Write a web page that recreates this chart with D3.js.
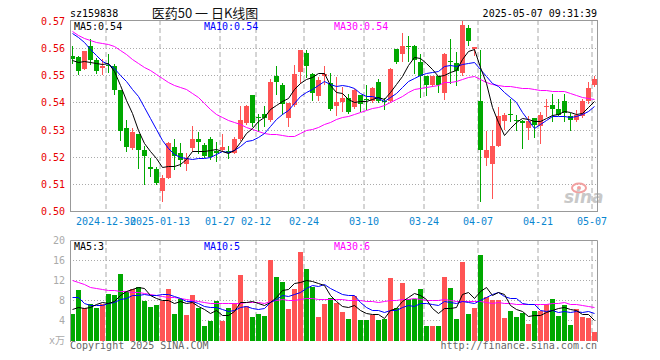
<!DOCTYPE html>
<html>
<head>
<meta charset="utf-8">
<script src="https://cdn.jsdelivr.net/npm/d3@7"></script>
<style>
body { margin: 0; background: #fff; }
svg { display: block; font-family: "DejaVu Sans Mono", monospace; font-size: 10px; }
</style>
</head>
<body>
<script>
// trading days shown, oldest first
const dates = [
  "2024-12-20","2024-12-23","2024-12-24","2024-12-25","2024-12-26","2024-12-27","2024-12-30","2024-12-31",
  "2025-01-02","2025-01-03","2025-01-06","2025-01-07","2025-01-08","2025-01-09","2025-01-10","2025-01-13",
  "2025-01-14","2025-01-15","2025-01-16","2025-01-17","2025-01-20","2025-01-21","2025-01-22","2025-01-23",
  "2025-01-24","2025-01-27","2025-02-05","2025-02-06","2025-02-07","2025-02-10","2025-02-11","2025-02-12",
  "2025-02-13","2025-02-14","2025-02-17","2025-02-18","2025-02-19","2025-02-20","2025-02-21","2025-02-24",
  "2025-02-25","2025-02-26","2025-02-27","2025-02-28","2025-03-03","2025-03-04","2025-03-05","2025-03-06",
  "2025-03-07","2025-03-10","2025-03-11","2025-03-12","2025-03-13","2025-03-14","2025-03-17","2025-03-18",
  "2025-03-19","2025-03-20","2025-03-21","2025-03-24","2025-03-25","2025-03-26","2025-03-27","2025-03-28",
  "2025-03-31","2025-04-01","2025-04-02","2025-04-03","2025-04-07","2025-04-08","2025-04-09","2025-04-10",
  "2025-04-11","2025-04-14","2025-04-15","2025-04-16","2025-04-17","2025-04-18","2025-04-21","2025-04-22",
  "2025-04-23","2025-04-24","2025-04-25","2025-04-28","2025-04-29","2025-04-30","2025-05-06","2025-05-07"
];

const open = [
  0.5570,0.5566,0.5524,0.5607,0.5555,0.5525,0.5537,0.5536,0.5444,0.5304,0.5233,0.5282,0.5225,0.5162,0.5153,0.5074,
  0.5121,0.5236,0.5212,0.5172,0.5233,0.5266,0.5242,0.5266,0.5221,0.5224,0.5220,0.5215,0.5264,0.5323,0.5426,0.5346,
  0.5356,0.5334,0.5497,0.5466,0.5341,0.5391,0.5513,0.5583,0.5505,0.5425,0.5496,0.5472,0.5386,0.5402,0.5415,0.5383,
  0.5426,0.5412,0.5405,0.5475,0.5407,0.5405,0.5595,0.5579,0.5608,0.5607,0.5548,0.5497,0.5466,0.5497,0.5436,0.5552,
  0.5545,0.5508,0.5673,0.5596,0.5404,0.5196,0.5174,0.5241,0.5333,0.5359,0.5334,0.5333,0.5306,0.5343,0.5315,0.5386,
  0.5392,0.5376,0.5404,0.5349,0.5337,0.5349,0.5404,0.5465
];
const high = [
  0.5607,0.5570,0.5590,0.5634,0.5564,0.5561,0.5577,0.5540,0.5446,0.5334,0.5307,0.5284,0.5239,0.5196,0.5163,0.5132,
  0.5253,0.5264,0.5250,0.5215,0.5315,0.5290,0.5252,0.5274,0.5254,0.5282,0.5239,0.5274,0.5387,0.5392,0.5426,0.5356,
  0.5385,0.5485,0.5536,0.5472,0.5398,0.5538,0.5594,0.5593,0.5510,0.5495,0.5535,0.5510,0.5494,0.5456,0.5430,0.5448,
  0.5426,0.5466,0.5455,0.5485,0.5418,0.5528,0.5595,0.5656,0.5646,0.5613,0.5577,0.5497,0.5497,0.5497,0.5583,0.5634,
  0.5585,0.5703,0.5686,0.5606,0.5594,0.5294,0.5300,0.5383,0.5361,0.5413,0.5355,0.5337,0.5349,0.5343,0.5364,0.5413,
  0.5432,0.5413,0.5432,0.5361,0.5373,0.5413,0.5474,0.5496
];
const low = [
  0.5546,0.5503,0.5522,0.5540,0.5509,0.5503,0.5512,0.5432,0.5260,0.5221,0.5229,0.5160,0.5101,0.5129,0.5098,0.5037,
  0.5120,0.5153,0.5166,0.5151,0.5221,0.5212,0.5199,0.5190,0.5184,0.5220,0.5195,0.5212,0.5262,0.5321,0.5313,0.5296,
  0.5314,0.5332,0.5430,0.5358,0.5315,0.5388,0.5471,0.5495,0.5409,0.5409,0.5469,0.5372,0.5352,0.5368,0.5361,0.5380,
  0.5369,0.5374,0.5400,0.5402,0.5374,0.5400,0.5545,0.5552,0.5552,0.5509,0.5421,0.5426,0.5460,0.5440,0.5411,0.5471,
  0.5465,0.5502,0.5612,0.5576,0.5037,0.5169,0.5049,0.5240,0.5303,0.5331,0.5300,0.5233,0.5266,0.5273,0.5251,0.5349,
  0.5331,0.5355,0.5331,0.5300,0.5331,0.5347,0.5398,0.5459
];
const close = [
  0.5560,0.5515,0.5588,0.5555,0.5515,0.5536,0.5535,0.5444,0.5295,0.5236,0.5292,0.5225,0.5202,0.5156,0.5102,0.5121,
  0.5252,0.5202,0.5188,0.5196,0.5267,0.5256,0.5202,0.5200,0.5215,0.5237,0.5215,0.5264,0.5335,0.5387,0.5323,0.5343,
  0.5344,0.5476,0.5475,0.5395,0.5397,0.5505,0.5593,0.5534,0.5434,0.5483,0.5505,0.5374,0.5402,0.5416,0.5364,0.5444,
  0.5393,0.5410,0.5454,0.5405,0.5404,0.5524,0.5548,0.5607,0.5606,0.5558,0.5497,0.5466,0.5497,0.5466,0.5577,0.5550,
  0.5514,0.5686,0.5628,0.5606,0.5224,0.5223,0.5241,0.5349,0.5355,0.5356,0.5332,0.5326,0.5333,0.5318,0.5355,0.5388,
  0.5374,0.5355,0.5361,0.5337,0.5355,0.5404,0.5453,0.5486
];
// volume, x10k lots
const vol = [
  5.3,10.1,6.4,7.3,6.5,7.3,9.3,9.1,13.2,9.7,10.2,10.6,7.9,6.7,7.0,7.9,
  10.2,5.3,8.2,5.0,9.0,6.4,2.9,3.9,7.8,3.7,6.5,7.5,13.0,6.9,4.7,5.3,
  4.9,16.0,12.6,11.7,6.3,10.2,17.6,14.3,10.7,4.7,7.3,8.5,7.5,5.6,4.3,8.9,
  4.1,4.1,5.1,4.1,4.3,12.5,6.4,11.5,8.2,8.2,10.3,2.9,2.9,2.9,12.7,10.5,
  4.3,15.6,5.3,6.5,17.0,8.6,8.1,8.1,4.5,5.9,4.7,5.5,3.3,5.8,5.9,7.2,
  8.3,4.9,7.1,3.1,6.3,4.7,4.5,1.7
];

// moving-average values at the left edge (they depend on days before the window)
const ma5Head = [0.5558,0.5548,0.5552,0.5549];
const ma10Head = [0.5655,0.5640,0.5622,0.5598,0.5575,0.5553,0.5543,0.5525,0.5500];
const ma30Head = [0.5663,0.5650,0.5638,0.5629,0.5623,0.5618,0.5615,0.5607,0.5593,0.5577,0.5561,0.5544,0.5531,0.5519,0.5506,
  0.5491,0.5476,0.5466,0.5456,0.5448,0.5436,0.5420,0.5399,0.5377,0.5358,0.5346,0.5337,0.5329,0.5321];
const vma5Head = [6.2,6.6,6.4,6.6];
const vma10Head = [8.6,8.6,7.4,7.1,7.1,7.1,7.4,7.7,8.2];
const vma30Head = [12.0,11.6,11.2,10.7,10.5,10.3,10.1,10.0,9.9,9.8,9.7,9.6,9.5,9.3,9.0,8.9,8.7,8.6,8.5,8.3,8.1,7.8,7.6,7.5,7.4,7.4,7.4,7.4,7.5];

const labelDates = ["2024-12-30","2025-01-13","2025-01-27","2025-02-12","2025-02-24","2025-03-10","2025-03-24","2025-04-07","2025-04-21","2025-05-07"];
const labelText = ["2024-12-30","2025-01-13","01-27","02-12","02-24","03-10","03-24","04-07","04-21","05-07"];
const priceTicks = [0.50,0.51,0.52,0.53,0.54,0.55,0.56,0.57];
const volTicks = [4,8,12,16,20];
const priceLegend = ["MA5:0.54","MA10:0.54","MA30:0.54"];
const volLegend = ["MA5:3","MA10:5","MA30:6"];
const maColors = ["#000000","#0000ff","#ff00ff"];

const UP = "#ff5454", DOWN = "#00a800";

function movingAvg(vals, n, head) {
  return vals.map((v, i) => i < n - 1 ? head[i] : d3.mean(vals.slice(i - n + 1, i + 1)));
}

const w = 660, h = 360;
const left = 70, right = 598;
const mainTop = 20, mainBottom = 211;
const volTop = 240, volBottom = 340;

const svg = d3.select("body").append("svg")
  .attr("width", w)
  .attr("height", h);

const x = d3.scaleBand().domain(dates).range([left, right]);
const y = d3.scaleLinear().domain([0.50, 0.57]).rangeRound([mainBottom, 21]);
const yv = d3.scaleLinear().domain([0, 20]).rangeRound([volBottom, volTop]);
const cx = d => x(d) + 2.5;

const days = dates.map((d, i) => ({date: d, o: open[i], h: high[i], l: low[i], c: close[i], v: vol[i]}));

// header
svg.append("text").attr("x", left).attr("y", 13).attr("dy", "0.35em").attr("fill", "#000").text("sz159838");
svg.append("text").attr("x", 205).attr("y", 13).attr("dy", "0.35em")
  .attr("text-anchor", "middle")
  .style("font-family", "'Noto Sans CJK SC', sans-serif")
  .style("font-size", "13px")
  .attr("fill", "#111")
  .text("医药50 一 日K线图");
svg.append("text").attr("x", right - 1).attr("y", 13).attr("dy", "0.35em")
  .attr("text-anchor", "end").attr("fill", "#000").text("2025-05-07 09:31:39");

// horizontal dotted grid
svg.append("g")
  .attr("transform", "translate(" + left + ",0)")
  .call(d3.axisLeft(y).tickValues(priceTicks.slice(1, -1)).tickSize(-(right - left)).tickFormat(""))
  .call(g => g.select(".domain").remove())
  .call(g => g.selectAll("line").attr("stroke", "#aaa").attr("stroke-dasharray", "1,2"));

svg.append("g")
  .attr("transform", "translate(" + left + ",0)")
  .call(d3.axisLeft(yv).tickValues(volTicks.slice(0, -1)).tickSize(-(right - left)).tickFormat(""))
  .call(g => g.select(".domain").remove())
  .call(g => g.selectAll("line").attr("stroke", "#aaa").attr("stroke-dasharray", "1,2"));

// vertical dashed grid
svg.append("g")
  .attr("transform", "translate(-3," + mainTop + ")")
  .call(d3.axisBottom(x).tickValues(labelDates).tickSize(mainBottom - mainTop).tickFormat(""))
  .call(g => g.select(".domain").remove())
  .call(g => g.selectAll("line").attr("stroke", "#aaa").attr("stroke-dasharray", "5,3"));

svg.append("g")
  .attr("transform", "translate(-3," + volTop + ")")
  .call(d3.axisBottom(x).tickValues(labelDates).tickSize(volBottom - volTop + 1).tickFormat(""))
  .call(g => g.select(".domain").remove())
  .call(g => g.selectAll("line").attr("stroke", "#aaa").attr("stroke-dasharray", "5,3"));

// price axis labels
svg.append("g")
  .attr("transform", "translate(" + (left - 5) + ",0)")
  .call(d3.axisLeft(y).tickValues(priceTicks).tickSize(0).tickPadding(0).tickFormat(d3.format(".2f")))
  .call(g => g.select(".domain").remove())
  .call(g => g.selectAll("text").attr("fill", "#e80000").style("font-family", "'DejaVu Sans Mono', monospace").style("font-size", "10px"));

// volume axis labels
svg.append("g")
  .attr("transform", "translate(" + (left - 5) + ",0)")
  .call(d3.axisLeft(yv).tickValues(volTicks).tickSize(0).tickPadding(0))
  .call(g => g.select(".domain").remove())
  .call(g => g.selectAll("text").attr("fill", "#aaa").style("font-family", "'DejaVu Sans Mono', monospace").style("font-size", "10px"));
svg.append("text").attr("x", left - 5).attr("y", volBottom + 1).attr("dy", "0.3em")
  .attr("text-anchor", "end").attr("fill", "#aaa")
  .style("font-family", "'DejaVu Sans Mono', 'Noto Sans CJK SC', monospace")
  .text("x万");

// date labels
svg.append("g")
  .attr("transform", "translate(-3," + (mainBottom + 7) + ")")
  .call(d3.axisBottom(x).tickValues(labelDates).tickSize(0).tickPadding(0)
    .tickFormat(d => labelText[labelDates.indexOf(d)]))
  .call(g => g.select(".domain").remove())
  .call(g => g.selectAll("text").attr("fill", "#0a86d0").style("font-family", "'DejaVu Sans Mono', monospace").style("font-size", "10px"));

// sina watermark
const mark = svg.append("g").attr("transform", "translate(564,203)");
mark.append("ellipse").attr("cx", 15).attr("cy", -15).attr("rx", 7).attr("ry", 4.5)
  .attr("fill", "none").attr("stroke", "#f2a0a0").attr("stroke-width", 2);
mark.append("circle").attr("cx", 15).attr("cy", -15).attr("r", 2).attr("fill", "#f2a0a0");
mark.append("text").attr("x", 0).attr("y", 0)
  .style("font-family", "'DejaVu Sans', sans-serif").style("font-size", "17px")
  .style("font-style", "italic").style("font-weight", "bold")
  .attr("fill", "#c8c8c8").text("sina");

// candles
const candle = svg.append("g").selectAll("g").data(days).join("g");
candle.append("line")
  .attr("x1", d => cx(d.date)).attr("x2", d => cx(d.date))
  .attr("y1", d => y(d.h)).attr("y2", d => y(d.l) + 1)
  .attr("stroke", d => d.c >= d.o ? UP : DOWN);
candle.append("rect")
  .attr("x", d => x(d.date))
  .attr("width", 5)
  .attr("y", d => y(Math.max(d.o, d.c)))
  .attr("height", d => Math.max(1, Math.abs(y(d.o) - y(d.c))))
  .attr("fill", d => d.c >= d.o ? UP : DOWN);

// volume bars
svg.append("g").selectAll("rect").data(days).join("rect")
  .attr("x", d => x(d.date))
  .attr("width", 5)
  .attr("y", d => yv(d.v))
  .attr("height", d => yv(0) + 1 - yv(d.v))
  .attr("fill", d => d.c >= d.o ? UP : DOWN);

// moving averages
const priceMa = [movingAvg(close, 5, ma5Head), movingAvg(close, 10, ma10Head), movingAvg(close, 30, ma30Head)];
const volMa = [movingAvg(vol, 5, vma5Head), movingAvg(vol, 10, vma10Head), movingAvg(vol, 30, vma30Head)];

const priceLine = d3.line().x((v, i) => cx(dates[i])).y(v => y(v) + 0.5);
const volLine = d3.line().x((v, i) => cx(dates[i])).y(v => yv(v) + 0.5);

[2, 1, 0].forEach(k => {
  svg.append("path").datum(priceMa[k])
    .attr("d", priceLine).attr("fill", "none").attr("stroke", maColors[k]).attr("stroke-width", 1);
  svg.append("path").datum(volMa[k])
    .attr("d", volLine).attr("fill", "none").attr("stroke", maColors[k]).attr("stroke-width", 1);
});

// panel borders
svg.append("rect").attr("x", left + 0.5).attr("y", mainTop + 0.5)
  .attr("width", right - left - 1).attr("height", mainBottom - mainTop)
  .attr("fill", "none").attr("stroke", "#999");
svg.append("path")
  .attr("d", "M" + (left + 0.5) + "," + (volBottom + 2) + "V" + (volTop + 0.5) + "H" + (right - 0.5) + "V" + (volBottom + 2))
  .attr("fill", "none").attr("stroke", "#999");

// legends
const legX = [74, 204, 334];
priceLegend.forEach((t, k) => {
  svg.append("text").attr("x", legX[k]).attr("y", 26).attr("dy", "0.35em").attr("fill", maColors[k]).text(t);
  svg.append("text").attr("x", legX[k]).attr("y", 246).attr("dy", "0.35em").attr("fill", maColors[k]).text(volLegend[k]);
});

// footer
svg.append("text").attr("x", left).attr("y", 345).attr("dy", "0.35em").attr("fill", "#666").text("Copyright 2025 SINA.COM");
svg.append("text").attr("x", right - 1).attr("y", 345).attr("dy", "0.35em")
  .attr("text-anchor", "end").attr("fill", "#666").text("http://finance.sina.com.cn");
</script>
</body>
</html>
